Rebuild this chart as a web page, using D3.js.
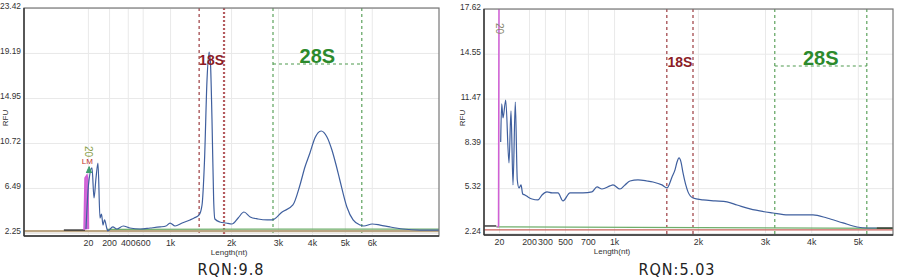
<!DOCTYPE html>
<html>
<head>
<meta charset="utf-8">
<script src="https://cdn.jsdelivr.net/npm/d3@7/dist/d3.min.js"></script>
<style>
body { margin: 0; background: #fff; }
svg { display: block; }
.tick text { font-family: "Liberation Sans", Arial, sans-serif; fill: #333; }
</style>
</head>
<body>
<svg id="chart" width="900" height="280"></svg>
<script>
// ---- left sample (RQN 9.8) ----
// x is migration time (arbitrary units 0-100), ladder maps sizes to time
let left_ladder_time = [15.4, 20.5, 25.0, 28.6, 35.2, 49.9, 61.2, 69.4, 77.3, 83.8];
let left_ladder_label = ['20', '200', '400', '600', '1k', '2k', '3k', '4k', '5k', '6k'];
let left_y_ticks = [2.25, 6.49, 10.72, 14.95, 19.19, 23.42];
let left_y_min = 1.97;
let left_18s = [42.2, 48.2];
let left_28s = [60.0, 81.4];
let left_28s_level = 18.15;
let left_rqn = 'RQN:9.8';
let left_blue = [
  [14.94, 2.63], [15.54, 6.77], [16.39, 8.37], [16.87, 5.55], [17.35, 7.43], [17.83, 8.84],
  [18.31, 3.66], [18.67, 4.04], [19.04, 3.0], [19.4, 3.48], [20.0, 2.63], [20.2, 2.44],
  [21.4, 2.82], [22.4, 2.63], [23.9, 2.91], [25.5, 2.72], [28.0, 2.63], [30.4, 2.72],
  [32.8, 2.82], [34.2, 2.91], [35.2, 3.19], [36.4, 2.91], [38.1, 3.19], [40.0, 3.48],
  [41.0, 3.66], [42.2, 3.95], [42.9, 4.89], [43.5, 9.12], [44.1, 16.65], [44.6, 19.28],
  [44.9, 18.53], [45.3, 12.9], [45.7, 5.36], [46.0, 3.57], [47.2, 3.29], [48.7, 3.19],
  [50.1, 3.1], [51.6, 3.66], [53.0, 4.23], [54.5, 3.76], [56.4, 3.57], [58.6, 3.48],
  [59.8, 3.48], [62.2, 4.23], [64.8, 4.89], [66.5, 6.77], [67.7, 8.46], [68.9, 9.78],
  [70.1, 11.19], [71.6, 11.85], [73.0, 11.29], [74.2, 10.06], [75.2, 8.65], [76.1, 7.24],
  [77.8, 4.7], [79.3, 3.48], [81.0, 3.0], [81.9, 2.91], [83.9, 3.1], [85.8, 3.0],
  [88.2, 2.82], [91.3, 2.63], [95.4, 2.53], [100, 2.53]
];
let left_marker = [[14.46, 2.53], [14.7, 7.43], [15.18, 7.71], [15.42, 7.24], [15.54, 2.63]];
let left_base_black = [[[9.6, 2.53], [14.7, 2.53]]];
let left_base_green = [[20.0, 2.6], [100, 2.62]];
let left_base_tan = [[0, 2.42], [100, 2.42]];

// ---- right sample (RQN 5.03) ----
let right_ladder_time = [3.67, 11.0, 14.9, 19.8, 25.4, 31.8, 52.3, 68.7, 80.0, 91.4];
let right_ladder_label = ['20', '200', '300', '500', '700', '1k', '2k', '3k', '4k', '5k'];
let right_y_ticks = [2.24, 5.32, 8.39, 11.47, 14.55, 17.62];
let right_y_min = 2.10;
let right_18s = [44.7, 51.1];
let right_28s = [71.1, 93.6];
let right_28s_level = 13.71;
let right_rqn = 'RQN:5.03';
let right_blue = [
  [4.08, 8.49], [4.33, 11.10], [4.65, 10.14], [5.31, 11.37], [6.11, 7.05], [6.60, 10.62],
  [7.09, 5.54], [7.65, 11.23], [8.14, 5.88], [8.56, 5.33], [9.05, 5.54], [9.46, 4.92],
  [10.02, 4.85], [10.76, 4.71], [11.74, 4.57], [13.2, 4.51], [14.18, 4.85], [15.4, 5.06],
  [16.63, 4.99], [18.09, 4.99], [19.32, 4.44], [21.03, 4.99], [22.74, 4.99], [24.2, 4.99],
  [26.4, 5.06], [27.63, 5.40], [28.85, 5.26], [30.8, 5.47], [31.54, 5.54], [33.25, 5.26],
  [34.47, 5.54], [35.7, 5.81], [37.65, 5.88], [39.85, 5.81], [41.32, 5.74], [43.5, 5.54],
  [44.74, 5.33], [45.97, 6.08], [46.7, 6.57], [47.2, 7.11], [47.68, 7.39], [48.17, 7.11],
  [48.66, 6.36], [49.88, 5.06], [51.1, 4.64], [53.55, 4.51], [56.5, 4.44], [59.4, 4.37],
  [61.86, 4.16], [65.04, 3.89], [70.66, 3.61], [74.33, 3.48], [80.44, 3.48], [83.86, 3.27],
  [87.78, 2.93], [91.2, 2.65], [93.64, 2.58], [96.0, 2.58]
];
let right_marker = [[3.3, 2.62], [3.55, 2.72], [3.67, 19.0]];
let right_base_black = [[[0, 2.72], [3.0, 2.72]], [[96.0, 2.58], [100, 2.58]]];
let right_base_green = [[3.0, 2.66], [100, 2.56]];
let right_base_red = [[0, 2.45], [100, 2.45]];

let fontFamily = '"Liberation Sans", Arial, sans-serif';

function draw_panel(svg, p, id) {
    let x = d3.scaleLinear().domain([0, 100]).range([p.left, p.right]);
    let y = d3.scaleLinear().domain([p.y_min, p.y_ticks[p.y_ticks.length - 1]]).range([p.bottom, p.top]);
    let g = svg.append('g');

    g.append('clipPath').attr('id', 'clip' + id)
        .append('rect')
        .attr('x', p.left).attr('y', p.top)
        .attr('width', p.right - p.left).attr('height', p.bottom - p.top);

    // grid
    g.append('g')
        .attr('transform', `translate(0, ${p.bottom})`)
        .call(d3.axisBottom(x).tickValues(p.ladder_time).tickSize(-(p.bottom - p.top)).tickFormat(''))
        .call(s => s.select('.domain').remove())
        .selectAll('line').attr('stroke', '#e9e9e9');
    g.append('g')
        .attr('transform', `translate(${p.left}, 0)`)
        .call(d3.axisLeft(y).tickValues(p.y_ticks).tickSize(-(p.right - p.left)).tickFormat(''))
        .call(s => s.select('.domain').remove())
        .selectAll('line').attr('stroke', '#e9e9e9');

    // axes labels
    let ax = g.append('g')
        .attr('transform', `translate(0, ${p.bottom})`)
        .call(d3.axisBottom(x).tickValues(p.ladder_time).tickSize(0).tickPadding(4)
            .tickFormat((d, i) => p.ladder_label[i]));
    ax.select('.domain').remove();
    ax.selectAll('text').attr('font-size', '8.8px').attr('font-family', fontFamily);

    let ay = g.append('g')
        .attr('transform', `translate(${p.left}, 0)`)
        .call(d3.axisLeft(y).tickValues(p.y_ticks).tickSize(0).tickPadding(3)
            .tickFormat(d3.format('.2f')));
    ay.select('.domain').remove();
    ay.selectAll('text').attr('font-size', '8.4px').attr('font-family', fontFamily).attr('y', -2);

    let line = d3.line().x(d => x(d[0])).y(d => y(d[1]));
    let smooth = d3.line().x(d => x(d[0])).y(d => y(d[1])).curve(d3.curveMonotoneX);
    let plot = g.append('g').attr('clip-path', `url(#clip${id})`);

    // 18S / 28S regions
    p.r18.forEach((t, i) => {
        plot.append('line')
            .attr('x1', x(t)).attr('x2', x(t)).attr('y1', p.top).attr('y2', p.bottom)
            .attr('stroke', p.thick18 && i == 1 ? '#b45a5e' : '#9c3b40')
            .attr('stroke-width', p.thick18 && i == 1 ? 2.2 : 1.2)
            .attr('stroke-dasharray', p.thick18 && i == 1 ? '2,2' : '3,3');
    });
    p.r28.forEach(t => {
        plot.append('line')
            .attr('x1', x(t)).attr('x2', x(t)).attr('y1', p.top).attr('y2', p.bottom)
            .attr('stroke', '#4e9a4e').attr('stroke-width', 1.1)
            .attr('stroke-dasharray', '3,3');
    });
    plot.append('line')
        .attr('x1', x(p.r28[0])).attr('x2', x(p.r28[1]))
        .attr('y1', y(p.level)).attr('y2', y(p.level))
        .attr('stroke', '#4e9a4e').attr('stroke-width', 1.1)
        .attr('stroke-dasharray', '3,3');

    // baselines
    plot.append('path').datum(p.base_tan || p.base_red)
        .attr('d', line).attr('fill', 'none')
        .attr('stroke', p.base_tan ? '#bba583' : '#c8605a').attr('stroke-width', p.base_tan ? 2.2 : 1.3);
    plot.append('path').datum(p.base_green)
        .attr('d', line).attr('fill', 'none').attr('stroke', '#6fae6a').attr('stroke-width', 1.2);
    plot.selectAll('.black_base').data(p.base_black).enter()
        .append('path').attr('class', 'black_base')
        .attr('d', line).attr('fill', 'none').attr('stroke', '#222').attr('stroke-width', 1.3);

    // lower marker
    plot.append('path').datum(p.marker)
        .attr('d', line).attr('fill', p.base_tan ? '#d36ad8' : 'none')
        .attr('stroke', '#d15fd6').attr('stroke-width', 1.5);

    // sample trace
    plot.append('path').datum(p.blue)
        .attr('d', smooth).attr('fill', 'none')
        .attr('stroke', '#3f5f9e').attr('stroke-width', 1.2);

    // labels
    g.append('text')
        .attr('x', (x(p.r18[0]) + x(p.r18[1])) / 2).attr('y', y(p.level) + 1)
        .attr('text-anchor', 'middle').attr('font-family', fontFamily)
        .attr('font-weight', 'bold').attr('font-size', '14px').attr('fill', '#8b1c26')
        .text('18S');
    g.append('text')
        .attr('x', (x(p.r28[0]) + x(p.r28[1])) / 2).attr('y', y(p.level) - 1)
        .attr('text-anchor', 'middle').attr('font-family', fontFamily)
        .attr('font-weight', 'bold').attr('font-size', '20px').attr('fill', '#2c8a2c')
        .text('28S');

    // "20" ladder tag
    let tag_y = p.base_tan ? y(p.marker[2][1]) - 29 : p.top + 14;
    g.append('text')
        .attr('transform', `translate(${x(p.ladder_time[0]) - 3}, ${tag_y}) rotate(90)`)
        .attr('font-family', fontFamily).attr('font-size', '10px')
        .attr('fill', p.base_tan ? '#8aa04a' : '#888870')
        .text('20');
    if (p.base_tan) {
        g.append('text')
            .attr('x', x(p.ladder_time[0]) - 0.5).attr('y', y(p.marker[2][1]) - 11)
            .attr('text-anchor', 'middle').attr('font-family', fontFamily)
            .attr('font-size', '8px').attr('fill', '#c0302c')
            .text('LM');
        plot.append('path')
            .datum([[15.0, 7.9], [15.7, 8.5], [16.3, 7.9]])
            .attr('d', line).attr('fill', '#3f9e6e').attr('stroke', '#3f9e6e');
    }

    // frame
    g.append('rect')
        .attr('x', p.left).attr('y', p.top)
        .attr('width', p.right - p.left).attr('height', p.bottom - p.top)
        .attr('fill', 'none').attr('stroke', '#777').attr('stroke-width', 1.2);
    g.append('line')
        .attr('x1', p.left).attr('x2', p.left).attr('y1', p.top).attr('y2', p.bottom)
        .attr('stroke', '#333').attr('stroke-width', 1.4);
    g.append('line')
        .attr('x1', p.left).attr('x2', p.right).attr('y1', p.bottom).attr('y2', p.bottom)
        .attr('stroke', '#333').attr('stroke-width', 1.4);

    // axis titles
    g.append('text')
        .attr('x', x(p.ladder_time[5]) - 2).attr('y', p.bottom + 19)
        .attr('text-anchor', 'middle').attr('font-family', fontFamily)
        .attr('font-size', '8px').attr('fill', '#333')
        .text('Length(nt)');
    g.append('text')
        .attr('transform', `translate(${p.rfu_x}, ${(p.top + p.bottom) / 2 - 4}) rotate(-90)`)
        .attr('text-anchor', 'middle').attr('font-family', fontFamily)
        .attr('font-size', '8px').attr('fill', '#333')
        .text('RFU');

    // RQN
    g.append('text')
        .attr('x', p.rqn_x).attr('y', 275)
        .attr('text-anchor', 'middle')
        .attr('font-family', '"Liberation Sans Narrow", "DejaVu Sans Condensed", sans-serif')
        .attr('font-size', '16px').attr('letter-spacing', '1px').attr('fill', '#222')
        .text(p.rqn);
}

function main() {
    let svg = d3.select('#chart');
    draw_panel(svg, {
        left: 24, right: 439, top: 8, bottom: 236,
        ladder_time: left_ladder_time, ladder_label: left_ladder_label,
        y_ticks: left_y_ticks, y_min: left_y_min,
        r18: left_18s, r28: left_28s, level: left_28s_level, thick18: true,
        blue: left_blue, marker: left_marker,
        base_black: left_base_black, base_green: left_base_green, base_tan: left_base_tan,
        rqn: left_rqn, rqn_x: 231, rfu_x: 8
    }, 'L');
    draw_panel(svg, {
        left: 484, right: 893, top: 9, bottom: 235,
        ladder_time: right_ladder_time, ladder_label: right_ladder_label,
        y_ticks: right_y_ticks, y_min: right_y_min,
        r18: right_18s, r28: right_28s, level: right_28s_level, thick18: false,
        blue: right_blue, marker: right_marker,
        base_black: right_base_black, base_green: right_base_green, base_red: right_base_red,
        rqn: right_rqn, rqn_x: 677, rfu_x: 465
    }, 'R');
}

main();
</script>
</body>
</html>
